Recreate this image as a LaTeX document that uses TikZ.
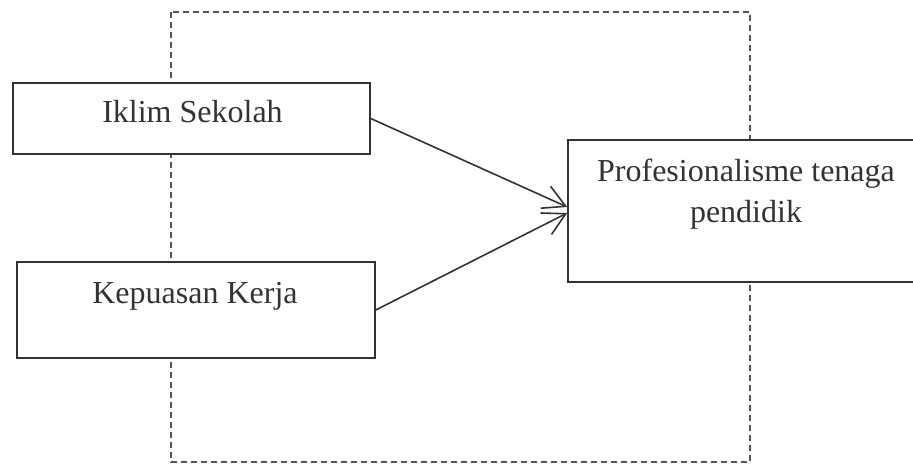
\documentclass[tikz,border=0pt]{standalone}
\usepackage{fontspec}
\setmainfont{Liberation Serif}
\usetikzlibrary{arrows.meta}
\definecolor{ink}{HTML}{333333}
\definecolor{dashink}{HTML}{555555}
\tikzset{
  boxnode/.style={draw=ink, line width=1.5pt, fill=white, rectangle, inner sep=0pt},
  txt/.style={text=ink, font=\fontsize{32}{40}\selectfont, inner sep=0pt, anchor=base},
  frame/.style={draw=dashink, line width=1.2pt, dash pattern=on 6pt off 4pt},
  conn/.style={draw=ink, line width=1.6pt, -{Straight Barb[length=22pt,width=24pt,line width=1.6pt]}}
}
\begin{document}
\begin{tikzpicture}[x=1pt,y=-1pt]
\useasboundingbox (0,0) rectangle (913,468);
\clip (0,0) rectangle (913,468);
\fill[white] (0,0) rectangle (913,468);
% dashed frame (behind boxes)
\coordinate (f1) at (171,12);
\coordinate (f2) at (750,462);
\draw[frame] (f1) rectangle (f2);
% boxes
\node[boxnode, minimum width=357pt, minimum height=71pt] (ikl) at (191.5,118.5) {};
\node[boxnode, minimum width=358pt, minimum height=96pt] (kep) at (196,310) {};
\node[boxnode, minimum width=372pt, minimum height=142pt] (prof) at (754,211) {};
% texts
\node[txt] (iklt) at (192.5,123) {Iklim Sekolah};
\node[txt] (kept) at (195,303) {Kepuasan Kerja};
\node[txt] (proft1) at (746,182) {Profesionalisme tenaga};
\node[txt] (proft2) at (746,222) {pendidik};
% connectors
\draw[conn] (ikl.east) -- ([yshift=4pt]prof.west);
\draw[conn] (kep.east) -- ([yshift=-2pt]prof.west);
\end{tikzpicture}
\end{document}
